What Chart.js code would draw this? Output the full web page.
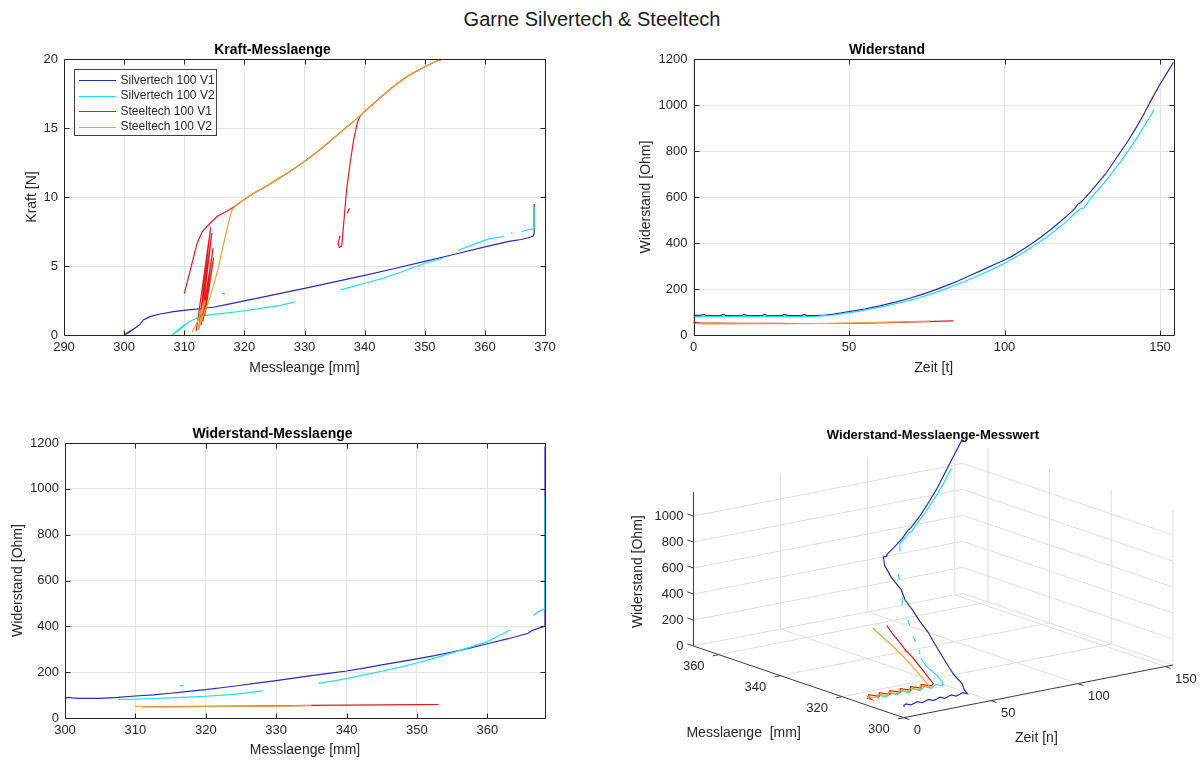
<!DOCTYPE html>
<html>
<head>
<meta charset="utf-8">
<script src="https://cdn.jsdelivr.net/npm/chart.js@4.4.0/dist/chart.umd.min.js"></script>
<style>
  html, body { margin: 0; padding: 0; background: #fff; }
  body { width: 1202px; height: 760px; position: relative; overflow: hidden;
         font-family: 'Liberation Sans', Arial, Helvetica, sans-serif; }
  #suptitle { position: absolute; left: 0; top: 8px; width: 1184px; text-align: center;
              font-size: 20px; color: #1a1a1a; }
  canvas { position: absolute; }
</style>
</head>
<body>
<div id="suptitle">Garne Silvertech &amp; Steeltech</div>
<canvas id="kraft" width="565" height="345" style="left:0px;top:35px"></canvas>
<canvas id="widerstand" width="590" height="345" style="left:600px;top:35px"></canvas>
<canvas id="widerstandLaenge" width="565" height="341" style="left:0px;top:419px"></canvas>
<canvas id="messwert" width="602" height="341" style="left:600px;top:419px"></canvas>
<script>
// ---------- series ----------
const seriesNames = ['Silvertech 100 V1', 'Silvertech 100 V2', 'Steeltech 100 V1', 'Steeltech 100 V2'];
const seriesColors = ['#2a2ab8', '#22e0e0', '#e01c1c', '#eba534'];

// ---------- Kraft [N] over Messlaenge [mm]: [L, F], null = break ----------
const kraftSilverV1 = [[300.0,0.00],[301.2,0.35],[300.3,0.05],[301.8,0.50],[300.6,0.12],[302.3,0.65],[300.9,0.22],[302.6,0.75],[303.2,1.09],[304.3,1.33],[306.0,1.52],[308.2,1.69],[310.3,1.80],[313.0,1.92],[315.0,2.03],[317.0,2.20],[320.0,2.47],[323.0,2.75],[326.0,3.02],[330.0,3.38],[335.0,3.85],[340.0,4.32],[345.0,4.82],[350.0,5.34],[355.0,5.85],[360.0,6.38],[364.0,6.78],[366.0,6.92],[367.2,7.05],[368.0,7.15],[368.2,7.35],[368.2,9.50]];
const kraftSilverV2 = [[308.0,0.00],[309.6,0.60],[308.3,0.08],[310.0,0.75],[308.7,0.20],[310.6,0.90],[311.5,1.10],[313.0,1.38],[315.0,1.50],[318.0,1.65],[320.0,1.75],[323.0,1.95],[326.0,2.15],[328.5,2.40],null,[316.3,3.02],[316.8,2.98],null,[336.0,3.27],[338.0,3.50],[340.0,3.75],[343.0,4.10],[346.0,4.55],[350.0,5.20],[353.0,5.55],null,[355.5,6.12],[358.0,6.55],[360.5,6.95],[363.2,7.15],null,[364.3,7.38],[364.6,7.40],null,[366.1,7.50],[367.5,7.65],[368.2,7.70],[368.2,9.30]];
const kraftSteelV1 = [[310.0,3.00],[310.6,4.00],[311.3,5.20],[312.1,6.60],[313.0,7.50],[314.3,8.10],[315.5,8.60],[317.0,8.95],[318.5,9.35],[319.5,9.68],[320.6,10.00],[322.0,10.38],[323.5,10.75],[325.0,11.15],[326.5,11.55],[328.0,11.97],[329.5,12.42],[331.0,12.90],[332.5,13.40],[334.0,13.95],[335.5,14.50],[337.0,15.05],[338.2,15.50],null,[312.0,0.30],[314.4,7.80],[312.4,0.40],[314.6,7.40],[312.8,0.70],[314.8,6.30],[313.1,1.00],[314.9,5.60],[313.4,1.40],null,[335.9,7.20],[335.6,6.60],[335.8,6.35],[336.2,6.45],[336.3,7.00],[336.6,8.50],[337.0,10.50],[337.6,12.50],[338.2,14.20],[338.8,15.40],[339.3,15.90],[340.0,16.20],[341.5,16.78],[343.0,17.35],[344.5,17.90],[346.0,18.40],[347.5,18.85],[349.0,19.20],[350.5,19.55],[352.0,19.85],[353.0,20.00],null,[337.1,8.80],[337.5,9.20]];
const kraftSteelV2 = [[300.0,0.00],[300.0,0.35],null,[311.3,0.20],[312.2,1.00],[313.5,2.50],[312.3,0.40],[313.0,1.20],[314.2,2.60],[315.0,3.80],[315.7,4.96],[316.3,6.10],[316.8,7.10],[317.4,8.20],[317.9,9.00],[318.5,9.35],[319.5,9.68],[320.6,10.00],[322.0,10.38],[323.5,10.75],[325.0,11.15],[326.5,11.55],[328.0,11.97],[329.5,12.42],[331.0,12.90],[332.5,13.40],[334.0,13.95],[335.5,14.50],[337.0,15.05],[338.5,15.60],[340.0,16.20],[341.5,16.78],[343.0,17.35],[344.5,17.90],[346.0,18.40],[347.5,18.85],[349.0,19.20],[350.5,19.55],[352.0,19.85],[353.0,20.00]];

// ---------- Widerstand [Ohm] over Zeit [t]: [t, R] ----------
const zeitSilverV1 = [[0,85],[2.3,85],[2.8,89],[3.4,89],[3.9,85],[8.8,84],[9.3,89],[9.9,89],[10.4,84],[15.6,84],[16.1,89],[16.7,89],[17.2,84],[22,84],[22.5,89],[23.1,89],[23.6,84],[28.6,84],[29.1,89],[29.7,89],[30.2,84],[34.8,84],[35.3,89],[35.9,89],[36.4,84],[40,85],[42.5,87],[45,91],[47.5,96],[50,102],[52.5,107],[55,113],[57.5,120],[60,127],[62.5,135],[65,143],[67.5,152],[70,162],[72.5,172],[75,183],[77.5,195],[80,208],[82.5,221],[85,235],[87.5,250],[90,265],[92.5,280],[95,296],[97.5,311],[100,326],[102.5,343],[105,364],[107.5,386],[110,409],[112.5,434],[115,460],[117.5,488],[120,517],[122.5,548],[123.5,568],[124.2,574],[125,583],[127.5,620],[130,660],[132.5,700],[135,750],[137.5,800],[140,850],[142.5,905],[145,965],[147.5,1030],[150,1090],[152.5,1145],[154.3,1185]];
const zeitSilverV2 = [[0,80],[5,81],[10,80],[15,81],[20,80],[25,81],[30,80],[35,80],[40,81],[42.5,84],[45,87],[47.5,92],[50,97],[52.5,102],[55,108],[57.5,114],[60,121],[62.5,128],[65,136],[67.5,144],[70,153],[72.5,162],[75,172],[77.5,183],[80,195],[82.5,208],[85,221],[87.5,235],[90,249],[92.5,264],[95,279],[97.5,295],[100,312],[102.5,330],[105,350],[107.5,371],[110,393],[112.5,415],[115,440],[117.5,467],[120,495],[122.5,527],[123.5,540],[124.5,549],[125.5,552],[126.5,570],[128,600],[130,630],[132.5,668],[135,712],[137.5,757],[140,805],[142.5,855],[145,910],[147.5,965],[148,980]];
const zeitSteelV1 = [[0,56],[2,53],[6,52],[15,51],[25,51],[35,50],[45,50],[55,52],[65,55],[75,58],[80,60],[83.6,61]];
const zeitSteelV2 = [[0,51],[3,48],[10,48],[20,49],[30,49],[40,50],[50,52],[60,55],[70,58],[76,60]];

// ---------- Widerstand [Ohm] over Messlaenge [mm]: [L, R] ----------
const laengeSilverV1 = [[300,86],[300.5,90],[301,88],[302,86],[305,86],[307.5,90],[310,96],[312.5,101],[315,108],[317.5,116],[320,124],[322.5,133],[325,143],[327.5,153],[330,163],[332.5,174],[335,185],[337.5,195],[340,205],[342.5,218],[345,232],[347.5,245],[350,258],[352.5,272],[355,288],[357.5,305],[360,324],[363,346],[365.8,370],[366.3,381],[367,389],[368.2,401],[368.2,1185]];
const laengeSilverV2 = [[307.5,81],[310,82],[312.5,85],[315,88],[317.5,91],[320,95],[322.5,100],[325,106],[328.2,118],null,[316.3,140],[316.8,141],null,[336,151],[338,161],[340,172],[342.5,188],[345,204],[347.5,221],[350,240],[352.5,261],[355,284],[357.5,308],[360,333],[363.2,384],null,[366.6,447],[367.2,462],[368.2,478],[368.2,965]];
const laengeSteelV1 = [[311,49],[315,50],[320,51],[325,52],[330,53],[335,55],[340,56],[345,57],[350,58],[353.1,59]];
const laengeSteelV2 = [[310,52],[310.5,50],[312,49],[315,49],[320,50],[325,51],[330,52],[335,54]];

// ---------- Messwerte: [Zeit, Messlaenge, Widerstand] ----------
const messwertSilverV1 = [[0,300.0,85],[1.5,300.8,86],[3,301.0,91],[4.5,300.3,84],[7.5,300.8,86],[9.5,301.0,91],[11,300.3,84],[14,300.8,86],[16,301.0,91],[17.5,300.3,84],[20.5,300.8,86],[22.5,301.0,91],[24,300.3,84],[27,300.8,86],[29,301.0,91],[30.5,300.3,84],[33.5,300.8,86],[35.5,301.0,91],[37,300.3,84],[40,303.0,86],[45,306.5,92],[50,312.0,102],[55,316.5,114],[60,321.0,128],[65,325.5,144],[70,330.0,162],[75,334.5,183],[80,340.0,208],[85,345.0,235],[90,350.5,265],[95,354.5,295],[100,360.5,326],[105,365.5,365],[109,368.2,400],[110,367.6,404],[111,368.2,412],[115,368.2,455],[120,368.2,515],[123,368.2,565],[124,368.2,575],[125,368.2,585],[130,368.2,660],[135,368.2,750],[140,368.2,850],[145,368.2,968],[150,368.2,1085],[154.3,368.2,1185]];
const messwertSilverV2 = [[0,308.0,80],[1.5,309.2,82],[3,309.6,86],[4.5,308.3,79],[7.5,309.2,82],[9.5,309.6,86],[11,308.3,79],[14,309.2,82],[16,309.6,86],[17.5,308.3,79],[20.5,309.2,82],[22.5,309.6,86],[24,308.3,79],[27,309.2,82],[29,309.6,86],[30.5,308.3,79],[33.5,309.2,82],[35.5,309.6,86],[37,308.5,80],[40,310.0,81],[45,314.5,87],[50,321.0,97],[55,325.5,108],null,[58,327.5,116],[61,329.5,123],null,[66,333.5,140],[69,336.0,150],null,[76,341.0,178],[79,343.3,190],null,[88,350.0,238],[92,352.5,260],null,[101,358.5,318],[104,360.5,342],null,[115,366.5,445],[118.5,368.2,478],[122,368.2,520],[124,368.2,548],[125,368.2,550],[128,368.2,600],[132,368.2,660],[136,368.2,730],[140,368.2,800],[144,368.2,885],[148,368.2,980]];
const messwertSteelV1 = [[0,312.0,56],[1,311.0,50],[2,312.6,53],[4,313.6,56],[7,311.8,51],[10,313.6,56],[13,311.8,51],[16,313.6,56],[19,311.8,51],[22,313.6,56],[25,311.8,51],[28,313.6,56],[31,311.8,51],[34,313.6,56],[37,312.0,51],[40,313.0,52],[50,322.0,53],[60,331.0,55],[64,335.0,55],[65.5,336.6,52],[65.2,336.0,47],[64.6,335.4,49],[65.2,336.2,54],[70,340.5,56],[77,347.0,58],[84,353.0,61]];
const messwertSteelV2 = [[0,311.0,50],[2,312.9,53],[5,311.3,49],[8,312.9,53],[11,311.3,49],[14,312.9,53],[17,311.3,49],[20,312.9,53],[23,311.3,49],[26,312.9,53],[29,311.3,49],[32,312.9,53],[36,312.0,50],[45,320.5,52],[55,330.0,54],[65,340.5,57],[76,353.0,60]];

// ---------- tick values ----------
const kraftTicksX = [290, 300, 310, 320, 330, 340, 350, 360, 370];
const kraftTicksY = [0, 5, 10, 15, 20];
const zeitTicksX = [0, 50, 100, 150];
const ohmTicksY = [0, 200, 400, 600, 800, 1000, 1200];
const laengeTicksX = [300, 310, 320, 330, 340, 350, 360];
const messwertTicksT = [0, 50, 100, 150];
const messwertTicksL = [300, 320, 340, 360];
const messwertTicksR = [0, 200, 400, 600, 800, 1000];

// ---------- shared look ----------
const FONT = "'Liberation Sans', Arial, Helvetica, sans-serif";
Chart.defaults.font.family = FONT;
Chart.defaults.color = '#262626';

function toPoints(pairs) {
  return pairs.map(p => p ? { x: p[0], y: p[1] } : { x: null, y: null });
}
function seriesDatasets(list, mapper) {
  return list.map((rows, s) => ({
    label: seriesNames[s],
    data: mapper(rows),
    borderColor: seriesColors[s],
    backgroundColor: seriesColors[s],
    borderWidth: 1.2,
    pointRadius: 0,
    spanGaps: false,
    order: list.length - 1 - s
  }));
}

// box around the plot area with inward tick marks on all four sides
const axesBox = {
  id: 'axesBox',
  afterDatasetsDraw(chart) {
    const { ctx, chartArea: a, scales: { x, y } } = chart;
    const L = Math.round(a.left) + 0.5, R = Math.round(a.right) + 0.5;
    const T = Math.round(a.top) + 0.5, B = Math.round(a.bottom) + 0.5;
    const tl = 5;
    ctx.save();
    ctx.strokeStyle = '#262626';
    ctx.lineWidth = 1;
    ctx.beginPath();
    ctx.rect(L, T, R - L, B - T);
    x.ticks.forEach(t => {
      const px = Math.round(x.getPixelForValue(t.value)) + 0.5;
      ctx.moveTo(px, B); ctx.lineTo(px, B - tl);
      ctx.moveTo(px, T); ctx.lineTo(px, T + tl);
    });
    y.ticks.forEach(t => {
      const py = Math.round(y.getPixelForValue(t.value)) + 0.5;
      ctx.moveTo(L, py); ctx.lineTo(L + tl, py);
      ctx.moveTo(R, py); ctx.lineTo(R - tl, py);
    });
    ctx.stroke();
    ctx.restore();
  }
};

// legend drawn inside the upper-left corner of the plot area
const cornerLegend = {
  id: 'cornerLegend',
  afterDraw(chart) {
    const { ctx, chartArea: a } = chart;
    const items = chart.data.datasets;
    const left = Math.round(a.left + 9.5) + 0.5, top = Math.round(a.top + 10) + 0.5;
    const rowH = 15.6, width = 142, height = 66;
    ctx.save();
    ctx.fillStyle = '#fff';
    ctx.fillRect(left, top, width, height);
    ctx.strokeStyle = '#404040';
    ctx.lineWidth = 1;
    ctx.strokeRect(left, top, width, height);
    ctx.font = '12px ' + FONT;
    ctx.textBaseline = 'middle';
    ctx.textAlign = 'left';
    items.forEach((d, i) => {
      const yy = top + 10.7 + i * rowH;
      ctx.strokeStyle = d.borderColor;
      ctx.lineWidth = 1;
      ctx.beginPath();
      ctx.moveTo(left + 4.5, Math.round(yy) + 0.5);
      ctx.lineTo(left + 41.5, Math.round(yy) + 0.5);
      ctx.stroke();
      ctx.fillStyle = '#262626';
      ctx.fillText(d.label, left + 46, yy);
    });
    ctx.restore();
  }
};

function planarChart(id, o) {
  return new Chart(document.getElementById(id), {
    type: 'line',
    data: { datasets: seriesDatasets(o.series, toPoints) },
    options: {
      responsive: false,
      animation: false,
      devicePixelRatio: 1,
      layout: { padding: { left: 0, top: 0, right: o.padRight, bottom: 0 } },
      elements: { point: { radius: 0, hoverRadius: 0 }, line: { tension: 0, fill: false } },
      plugins: {
        legend: { display: false },
        tooltip: { enabled: false },
        title: {
          display: true, text: o.title, color: '#000',
          font: { size: 14, weight: 'bold' },
          padding: { top: o.titleTop, bottom: o.titleBottom }
        }
      },
      scales: {
        x: {
          type: 'linear', min: o.xMin, max: o.xMax,
          afterBuildTicks: s => { s.ticks = o.xTicks.map(v => ({ value: v })); },
          afterFit: s => { s.height = o.xAxisHeight; },
          ticks: { padding: 5, color: '#262626', font: { size: 13 }, maxRotation: 0, autoSkip: false,
                   callback: v => String(v) },
          grid: { color: '#e4e4e4', drawTicks: false },
          border: { display: false },
          title: { display: true, text: o.xLabel, color: '#262626', font: { size: 14 },
                   padding: { top: 0, bottom: o.xLabelBottom } }
        },
        y: {
          type: 'linear', min: o.yMin, max: o.yMax,
          afterBuildTicks: s => { s.ticks = o.yTicks.map(v => ({ value: v })); },
          afterFit: s => { s.width = o.yAxisWidth; },
          ticks: { padding: 6, color: '#262626', font: { size: 13 }, autoSkip: false,
                   callback: v => String(v) },
          grid: { color: '#e4e4e4', drawTicks: false },
          border: { display: false },
          title: { display: true, text: o.yLabel, color: '#262626', font: { size: 14 },
                   padding: { top: o.yLabelLeft, bottom: 0 } }
        }
      }
    },
    plugins: [axesBox].concat(o.extraPlugins || [])
  });
}

// Kraft-Messlaenge
planarChart('kraft', {
  series: [kraftSilverV1, kraftSilverV2, kraftSteelV1, kraftSteelV2],
  title: 'Kraft-Messlaenge', titleTop: 7.2, titleBottom: 0,
  xMin: 290, xMax: 370, xTicks: kraftTicksX, xLabel: 'Messleange [mm]', xAxisHeight: 45, xLabelBottom: 3.6,
  yMin: 0, yMax: 20, yTicks: kraftTicksY, yLabel: 'Kraft [N]', yAxisWidth: 64, yLabelLeft: 23.6,
  padRight: 20,
  extraPlugins: [cornerLegend]
});

// Widerstand over time
planarChart('widerstand', {
  series: [zeitSilverV1, zeitSilverV2, zeitSteelV1, zeitSteelV2],
  title: 'Widerstand', titleTop: 7.2, titleBottom: 0,
  xMin: 0, xMax: 154.5, xTicks: zeitTicksX, xLabel: 'Zeit [t]', xAxisHeight: 45, xLabelBottom: 3.6,
  yMin: 0, yMax: 1200, yTicks: ohmTicksY, yLabel: 'Widerstand [Ohm]', yAxisWidth: 93.5, yLabelLeft: 37.6,
  padRight: 16
});

// Widerstand-Messlaenge
planarChart('widerstandLaenge', {
  series: [laengeSilverV1, laengeSilverV2, laengeSteelV1, laengeSteelV2],
  title: 'Widerstand-Messlaenge', titleTop: 6.6, titleBottom: 0.6,
  xMin: 300, xMax: 368.2, xTicks: laengeTicksX, xLabel: 'Messlaenge [mm]', xAxisHeight: 42, xLabelBottom: 1.6,
  yMin: 0, yMax: 1200, yTicks: ohmTicksY, yLabel: 'Widerstand [Ohm]', yAxisWidth: 65, yLabelLeft: 9.6,
  padRight: 20
});

// ---------- 3D view: Zeit / Messlaenge on the floor, Widerstand upwards ----------
// oblique projection expressed in canvas pixels of the 'messwert' canvas
const view3d = {
  originX: 303.8, originY: 298.7,      // Zeit 0, Messlaenge 300, Widerstand 0
  perT: [1.742, -0.341],               // per unit of Zeit
  perL: [-3.084, -1.051],              // per mm of Messlaenge
  perR: -0.13,                         // per Ohm
  tMax: 154.5, lMin: 300, lMax: 368.2, rMax: 1185
};
const plotTop3d = 24.4;                // height taken by the title block
function project(t, l, r) {
  const v = view3d, dl = l - v.lMin;
  return {
    x: v.originX + t * v.perT[0] + dl * v.perL[0],
    y: v.originY + t * v.perT[1] + dl * v.perL[1] + r * v.perR
  };
}
function projectRows(rows) {
  return rows.map(p => p ? project(p[0], p[1], p[2]) : { x: null, y: null });
}

const axes3d = {
  id: 'axes3d',
  beforeDatasetsDraw(chart) {
    const { ctx, scales: { x, y } } = chart;
    const v = view3d;
    const P = (t, l, r) => { const q = project(t, l, r); return [x.getPixelForValue(q.x), y.getPixelForValue(q.y)]; };
    const seg = (a, b) => { ctx.moveTo(a[0], a[1]); ctx.lineTo(b[0], b[1]); };
    ctx.save();
    ctx.lineWidth = 1;
    // grid on floor and the two back walls
    ctx.strokeStyle = '#dedede';
    ctx.beginPath();
    messwertTicksL.forEach(l => { if (l > v.lMin) seg(P(0, l, 0), P(v.tMax, l, 0)); });
    messwertTicksT.forEach(t => { if (t > 0) seg(P(t, v.lMin, 0), P(t, v.lMax, 0)); });
    messwertTicksR.forEach(r => seg(P(0, v.lMax, r), P(v.tMax, v.lMax, r)));
    messwertTicksT.forEach(t => { if (t > 0) seg(P(t, v.lMax, 0), P(t, v.lMax, v.rMax)); });
    messwertTicksR.forEach(r => seg(P(v.tMax, v.lMin, r), P(v.tMax, v.lMax, r)));
    messwertTicksL.forEach(l => seg(P(v.tMax, l, 0), P(v.tMax, l, v.rMax)));
    ctx.stroke();
    // axis lines and tick marks
    ctx.strokeStyle = '#3a3a3a';
    ctx.beginPath();
    seg(P(0, v.lMin, 0), P(v.tMax, v.lMin, 0));
    seg(P(0, v.lMin, 0), P(0, v.lMax, 0));
    seg(P(0, v.lMax, 0), P(0, v.lMax, v.rMax));
    messwertTicksT.forEach(t => seg(P(t, v.lMin, 0), P(t, v.lMin - 1.8, 0)));
    messwertTicksL.forEach(l => seg(P(0, l, 0), P(-3.4, l, 0)));
    messwertTicksR.forEach(r => seg(P(0, v.lMax, r), P(0, v.lMax + 2, r)));
    ctx.stroke();
    // tick labels
    ctx.fillStyle = '#262626';
    ctx.font = '13px ' + FONT;
    ctx.textBaseline = 'middle';
    ctx.textAlign = 'right';
    messwertTicksR.forEach(r => { const p = P(0, v.lMax, r); ctx.fillText(String(r), p[0] - 10, p[1]); });
    ctx.textAlign = 'center';
    messwertTicksL.forEach(l => { const p = P(0, l, 0); ctx.fillText(String(l), p[0] - 25, p[1] + 12); });
    ctx.textAlign = 'left';
    messwertTicksT.forEach(t => { const p = P(t, v.lMin, 0); ctx.fillText(String(t), p[0] + 10, p[1] + 12.5); });
    // axis titles
    ctx.font = '14px ' + FONT;
    ctx.textAlign = 'center';
    const a = P(0, v.lMin, 0), b = P(0, v.lMax, 0), c = P(v.tMax, v.lMin, 0);
    ctx.fillText('Messlaenge  [mm]', (a[0] + b[0]) / 2 - 55, (a[1] + b[1]) / 2 + 51);
    ctx.fillText('Zeit [n]', (a[0] + c[0]) / 2 - 2, (a[1] + c[1]) / 2 + 46.6);
    const zMid = P(0, v.lMax, v.rMax / 2);
    ctx.translate(zMid[0] - 55, zMid[1] + 2.7);
    ctx.rotate(-Math.PI / 2);
    ctx.fillText('Widerstand [Ohm]', 0, 0);
    ctx.restore();
  }
};

const messwertSets = seriesDatasets(
  [messwertSilverV1, messwertSilverV2, messwertSteelV1, messwertSteelV2], projectRows
).map(d => Object.assign(d, { clip: false }));

new Chart(document.getElementById('messwert'), {
  type: 'line',
  data: { datasets: messwertSets },
  options: {
    responsive: false,
    animation: false,
    devicePixelRatio: 1,
    layout: { padding: { left: 64, top: 0, right: 0, bottom: 0 } },
    elements: { point: { radius: 0, hoverRadius: 0 }, line: { tension: 0, fill: false } },
    plugins: {
      legend: { display: false },
      tooltip: { enabled: false },
      title: {
        display: true, text: 'Widerstand-Messlaenge-Messwert', color: '#000',
        font: { size: 13, weight: 'bold' },
        padding: { top: plotTop3d - 15.6, bottom: 0 }
      }
    },
    scales: {
      x: { type: 'linear', display: false, min: 64, max: 602 },
      y: { type: 'linear', display: false, min: plotTop3d, max: 341, reverse: true }
    }
  },
  plugins: [axes3d]
});
</script>
</body>
</html>
